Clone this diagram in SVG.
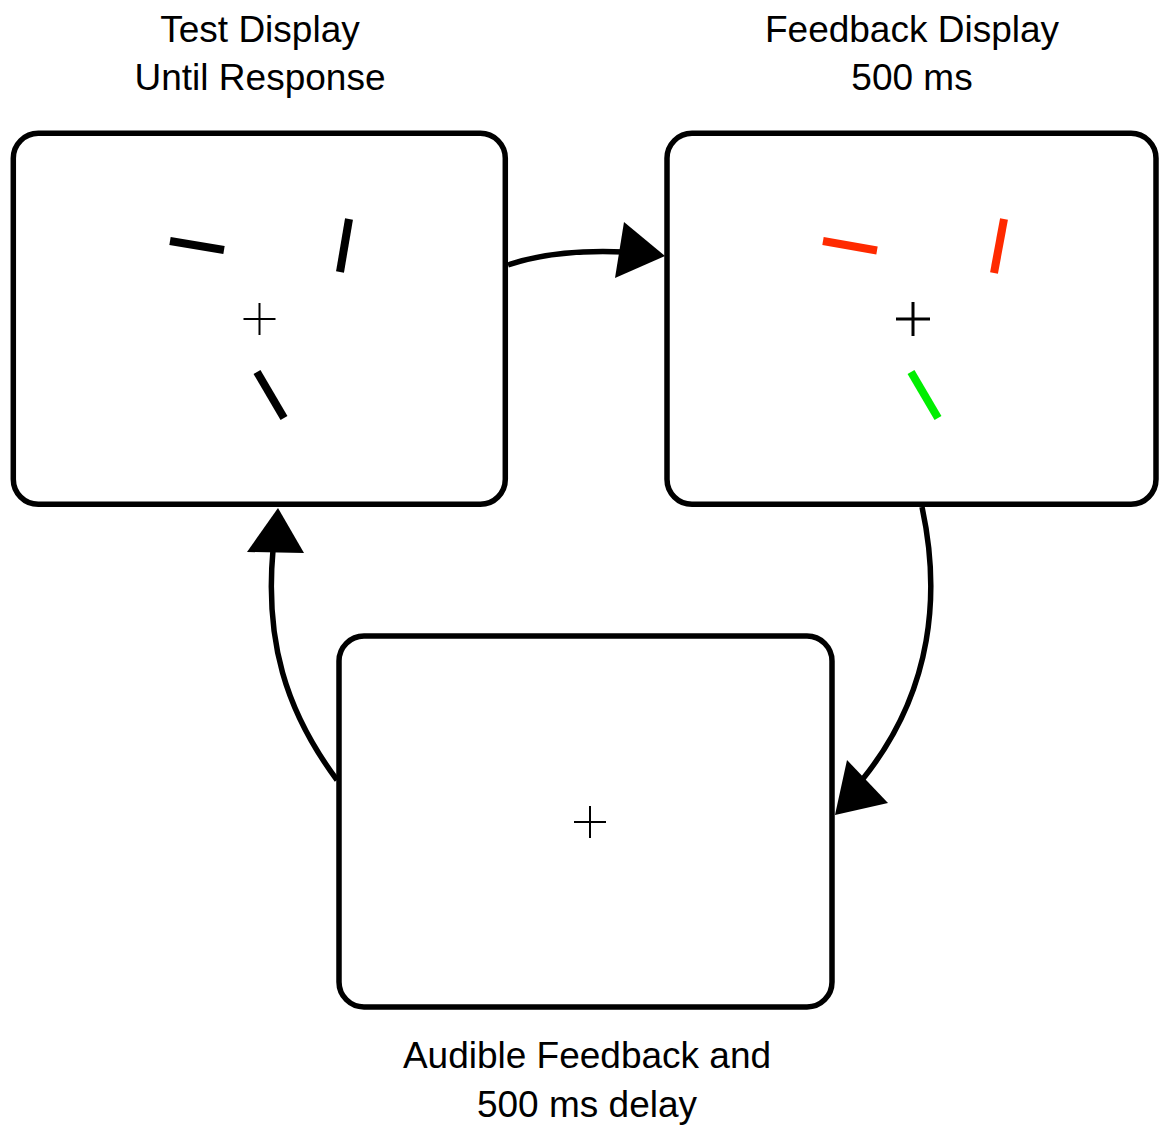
<svg xmlns="http://www.w3.org/2000/svg" width="1160" height="1128" viewBox="0 0 1160 1128">
<style>
.box{fill:#fff;stroke:#000;stroke-width:5.5}
.lbl{font-family:"Liberation Sans",Arial,sans-serif;font-size:37px;fill:#000;text-anchor:middle}
.bar{stroke-width:8;stroke-linecap:butt}
.cross{stroke:#000;fill:none}
.conn{fill:none;stroke:#000;stroke-width:5.5}
.head{fill:#000}
</style>
<rect width="1160" height="1128" fill="#fff"/>
<g id="test-display">
<rect class="box" x="13.3" y="133.3" width="492" height="371" rx="25"/>
<line class="bar" stroke="#000" x1="170" y1="241" x2="224" y2="250"/>
<line class="bar" stroke="#000" x1="349" y1="219" x2="340" y2="272"/>
<line class="bar" stroke="#000" x1="257" y1="372" x2="284" y2="418"/>
<path class="cross" stroke-width="2" d="M243.5,319H275.5M259.5,303V335"/>
<text class="lbl" x="260" y="42">Test Display</text>
<text class="lbl" x="260" y="90">Until Response</text>
</g>
<g id="feedback-display">
<rect class="box" x="667" y="133.3" width="489" height="371" rx="25"/>
<line class="bar" stroke="#ff2a00" x1="823" y1="241" x2="877" y2="250.5"/>
<line class="bar" stroke="#ff2a00" x1="1004" y1="219" x2="994" y2="273"/>
<line class="bar" stroke="#00ee00" x1="911" y1="372" x2="938" y2="418"/>
<path class="cross" stroke-width="3" d="M896,319H930M913,302V336"/>
<text class="lbl" x="912" y="42">Feedback Display</text>
<text class="lbl" x="912" y="90">500 ms</text>
</g>
<g id="audible-feedback">
<rect class="box" x="339" y="636" width="493" height="371" rx="25"/>
<path class="cross" stroke-width="2" d="M574,822H606M590,806V838"/>
<text class="lbl" x="587" y="1068">Audible Feedback and</text>
<text class="lbl" x="587" y="1117">500 ms delay</text>
</g>
<g id="connectors">
<path class="conn" d="M508,265C540,254 580,250 625,252"/>
<polygon class="head" points="665,256 624,222 615,278"/>
<path class="conn" d="M922,507C940,590 935,690 862,780"/>
<polygon class="head" points="835,815 847,760 888,803"/>
<path class="conn" d="M337,780C285,710 265,640 273,550"/>
<polygon class="head" points="278,508 247,552 304,553"/>
</g>
</svg>
